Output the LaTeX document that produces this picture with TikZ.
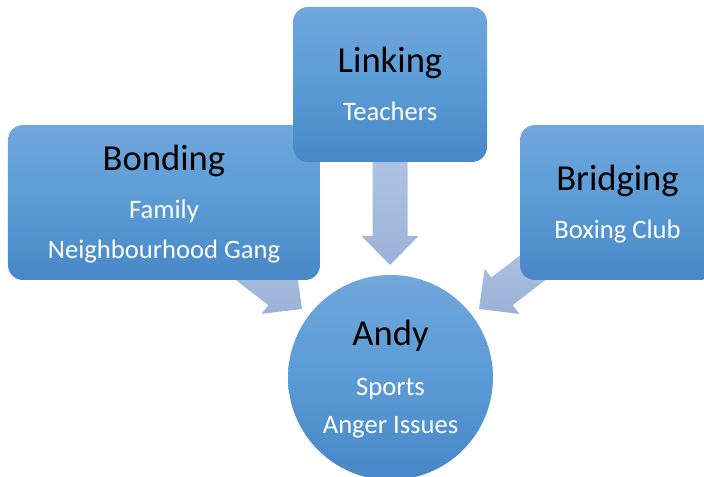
\documentclass[tikz,border=0pt]{standalone}
\usepackage{fontspec}
\setmainfont{Carlito}
\usetikzlibrary{calc,backgrounds}
\definecolor{boxtop}{HTML}{70A7DD}
\definecolor{boxmid}{HTML}{5B9BD5}
\definecolor{boxbot}{HTML}{4787C7}
\definecolor{arrtop}{HTML}{BCD0EC}
\definecolor{arrbot}{HTML}{9BB2D7}
\tikzset{
  boxnode/.style={rectangle, rounded corners=15bp, inner sep=0pt,
    top color=boxtop, bottom color=boxbot, middle color=boxmid},
  circnode/.style={circle, inner sep=0pt,
    top color=boxtop, bottom color=boxbot, middle color=boxmid},
  titletext/.style={anchor=base, inner sep=0pt, text=black,
    font=\fontsize{36.6bp}{40bp}\selectfont},
  subtext/.style={anchor=base, inner sep=0pt, text=white,
    font=\fontsize{26.6bp}{30bp}\selectfont},
  arrowfill/.style={top color=arrtop, bottom color=arrbot}
}
\newcommand{\myblockarrow}[2]{%
  \coordinate (hb#2) at ($(#2)!29bp!(#1.center)$);
  \path[arrowfill] (#2)
    -- ($(hb#2)!28.5bp!90:(#2)$)
    -- ($(hb#2)!17.5bp!90:(#2)$)
    -- ($(#1.center)!17.5bp!90:(#2)$)
    -- ($(#1.center)!17.5bp!-90:(#2)$)
    -- ($(hb#2)!17.5bp!-90:(#2)$)
    -- ($(hb#2)!28.5bp!-90:(#2)$)
    -- cycle;}
\begin{document}
\begin{tikzpicture}[x=1bp,y=1bp]
\useasboundingbox (0,0) rectangle (704,477);
\clip (0,0) rectangle (704,477);
% boxes
\node[boxnode, minimum width=312bp, minimum height=155bp] (bonding) at (164,274.5) {};
\node[boxnode, minimum width=194bp, minimum height=155bp] (linking) at (390,392.5) {};
\node[boxnode, minimum width=195bp, minimum height=155bp] (bridging) at (617.5,274.5) {};
\node[circnode, minimum size=205bp] (andy) at (390.5,99.5) {};
% texts
\node[titletext] (bondingT) at (164,306) {Bonding};
\node[subtext] (bondingS1) at (164,258) {Family};
\node[subtext] (bondingS2) at (164,218) {Neighbourhood Gang};
\node[titletext] (linkingT) at (390,404) {Linking};
\node[subtext] (linkingS) at (390,356) {Teachers};
\node[titletext] (bridgingT) at (617.5,286) {Bridging};
\node[subtext] (bridgingS) at (617.5,238) {Boxing Club};
\node[titletext] (andyT) at (390.5,131) {Andy};
\node[subtext] (andyS1) at (390.5,81) {Sports};
\node[subtext] (andyS2) at (390.5,43) {Anger Issues};
% arrow tips
\coordinate (tipL) at (390,212);
\coordinate (tipB) at (302,168);
\coordinate (tipR) at (479,168);
\begin{scope}[on background layer]
  \myblockarrow{linking}{tipL}
  \myblockarrow{bonding}{tipB}
  \myblockarrow{bridging}{tipR}
\end{scope}
\end{tikzpicture}
\end{document}
